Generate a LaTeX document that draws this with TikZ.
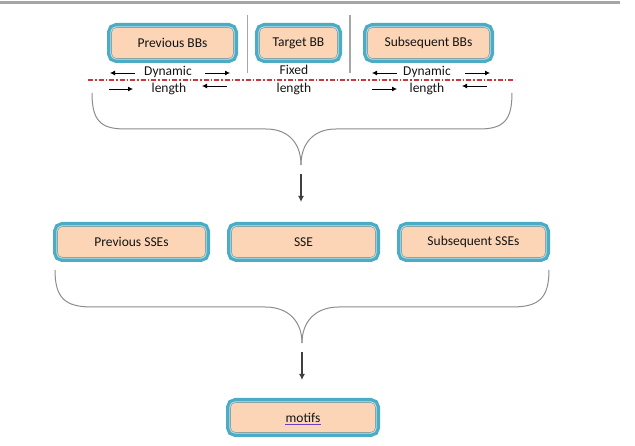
\documentclass[tikz,border=0pt]{standalone}
\usepackage{fontspec}
\setmainfont{Carlito}
\usetikzlibrary{arrows.meta}
\definecolor{teal4}{HTML}{4BACC6}
\definecolor{peach}{HTML}{FBD5B5}
\definecolor{innerln}{HTML}{8AA5A5}
\definecolor{ddred}{HTML}{C8383C}
\definecolor{bracegray}{HTML}{8C8C8C}
\definecolor{sepgray}{HTML}{A6A6A6}
\definecolor{txt}{HTML}{141414}
\definecolor{ulpurple}{HTML}{6B3FC8}
\tikzset{
 box/.style={rounded corners=5pt, fill=peach, draw=innerln, line width=0.6pt, inner sep=0pt,
   minimum height=31pt, font=\fontsize{13.5}{16}\selectfont, text=txt,
   preaction={draw=teal4, line width=9pt},
   preaction={draw=white!65!teal4, line width=2.4pt}},
 lbl/.style={font=\fontsize{13.5}{16}\selectfont, text=txt, inner sep=0pt},
 sarrow/.style={-{Latex[length=5pt,width=5pt]}, line width=0.8pt, black},
 brace/.style={draw=bracegray, line width=1pt},
 flow/.style={-{Latex[length=6pt,width=6pt]}, line width=1.2pt, draw=black!75},
 sep/.style={draw=sepgray, line width=1.2pt},
 ddline/.style={draw=ddred, line width=1.1pt, dash pattern=on 5pt off 2pt on 1.5pt off 2pt},
}
\begin{document}
\begin{tikzpicture}[x=1pt,y=-1pt]
\useasboundingbox (0,0) rectangle (635,446);
% top rule
\draw[draw=sepgray, line width=3pt] (0,3) -- (620,3);

% first row boxes
\node[box, minimum width=122pt] (pbb) at (172.5,43) {Previous BBs};
\node[box, minimum width=78pt] (tbb) at (298.5,43) {Target BB};
\node[box, minimum width=122pt] (sbb) at (428.5,43) {Subsequent BBs};

% separators
\coordinate (s1t) at (247.5,15); \coordinate (s1b) at (247.5,73);
\coordinate (s2t) at (350,15); \coordinate (s2b) at (350,73);
\draw[sep] (s1t) -- (s1b);
\draw[sep] (s2t) -- (s2b);

% dash-dot line
\coordinate (dl) at (88,80); \coordinate (dr) at (515,80);
\draw[ddline] (dl) -- (dr);

% labels
\node[lbl] (dyn1) at (168,72) {Dynamic};
\node[lbl] (len1) at (169,89) {length};
\node[lbl] (fix) at (294,70) {Fixed};
\node[lbl] (len2) at (294,89) {length};
\node[lbl] (dyn2) at (427,72) {Dynamic};
\node[lbl] (len3) at (427,89) {length};

% small arrows left group
\coordinate (a1s) at (135,73); \coordinate (a1e) at (110,73);
\coordinate (a2s) at (205,73); \coordinate (a2e) at (230,73);
\coordinate (a3s) at (109,89); \coordinate (a3e) at (133,89);
\coordinate (a4s) at (227,86); \coordinate (a4e) at (202,86);
\draw[sarrow] (a1s) -- (a1e);
\draw[sarrow] (a2s) -- (a2e);
\draw[sarrow] (a3s) -- (a3e);
\draw[sarrow] (a4s) -- (a4e);
% small arrows right group
\coordinate (b1s) at (397,73); \coordinate (b1e) at (372,73);
\coordinate (b2s) at (465,73); \coordinate (b2e) at (490,73);
\coordinate (b3s) at (372,89); \coordinate (b3e) at (397,89);
\coordinate (b4s) at (487,86); \coordinate (b4e) at (462,86);
\draw[sarrow] (b1s) -- (b1e);
\draw[sarrow] (b2s) -- (b2e);
\draw[sarrow] (b3s) -- (b3e);
\draw[sarrow] (b4s) -- (b4e);

% brace 1
\coordinate (br1l) at (92,93); \coordinate (br1r) at (512,93); \coordinate (br1p) at (301,165);
\draw[brace] (br1l) .. controls (92,120) and (100,129) .. (125,129) -- (266,129)
  .. controls (290,129) and (301,145) .. (br1p);
\draw[brace] (br1r) .. controls (512,120) and (504,129) .. (479,129) -- (336,129)
  .. controls (312,129) and (301,145) .. (br1p);
\coordinate (f1s) at (301,174); \coordinate (f1e) at (301,202);
\draw[flow] (f1s) -- (f1e);

% second row
\node[box, minimum width=148pt] (pss) at (131.5,242) {Previous SSEs};
\node[box, minimum width=144pt] (sse) at (303.5,242) {SSE};
\node[box, minimum width=144pt] (sss) at (473.5,242) {Subsequent SSEs};

% brace 2
\coordinate (br2l) at (55,270); \coordinate (br2r) at (549,270); \coordinate (br2p) at (302,343);
\draw[brace] (br2l) .. controls (55,298) and (65,307) .. (92,307) -- (265,307)
  .. controls (290,307) and (302,323) .. (br2p);
\draw[brace] (br2r) .. controls (549,298) and (539,307) .. (512,307) -- (339,307)
  .. controls (314,307) and (302,323) .. (br2p);
\coordinate (f2s) at (302,352); \coordinate (f2e) at (302,380);
\draw[flow] (f2s) -- (f2e);

% motifs
\node[box, minimum width=145pt, minimum height=30pt] (mot) at (303,417.5) {\phantom{motifs}};
\node[lbl] (mott) at (303,418) {motifs};
\draw[ulpurple, line width=1pt] ([yshift=-2pt]mott.base west) -- ([yshift=-2pt]mott.base east);
\end{tikzpicture}
\end{document}
